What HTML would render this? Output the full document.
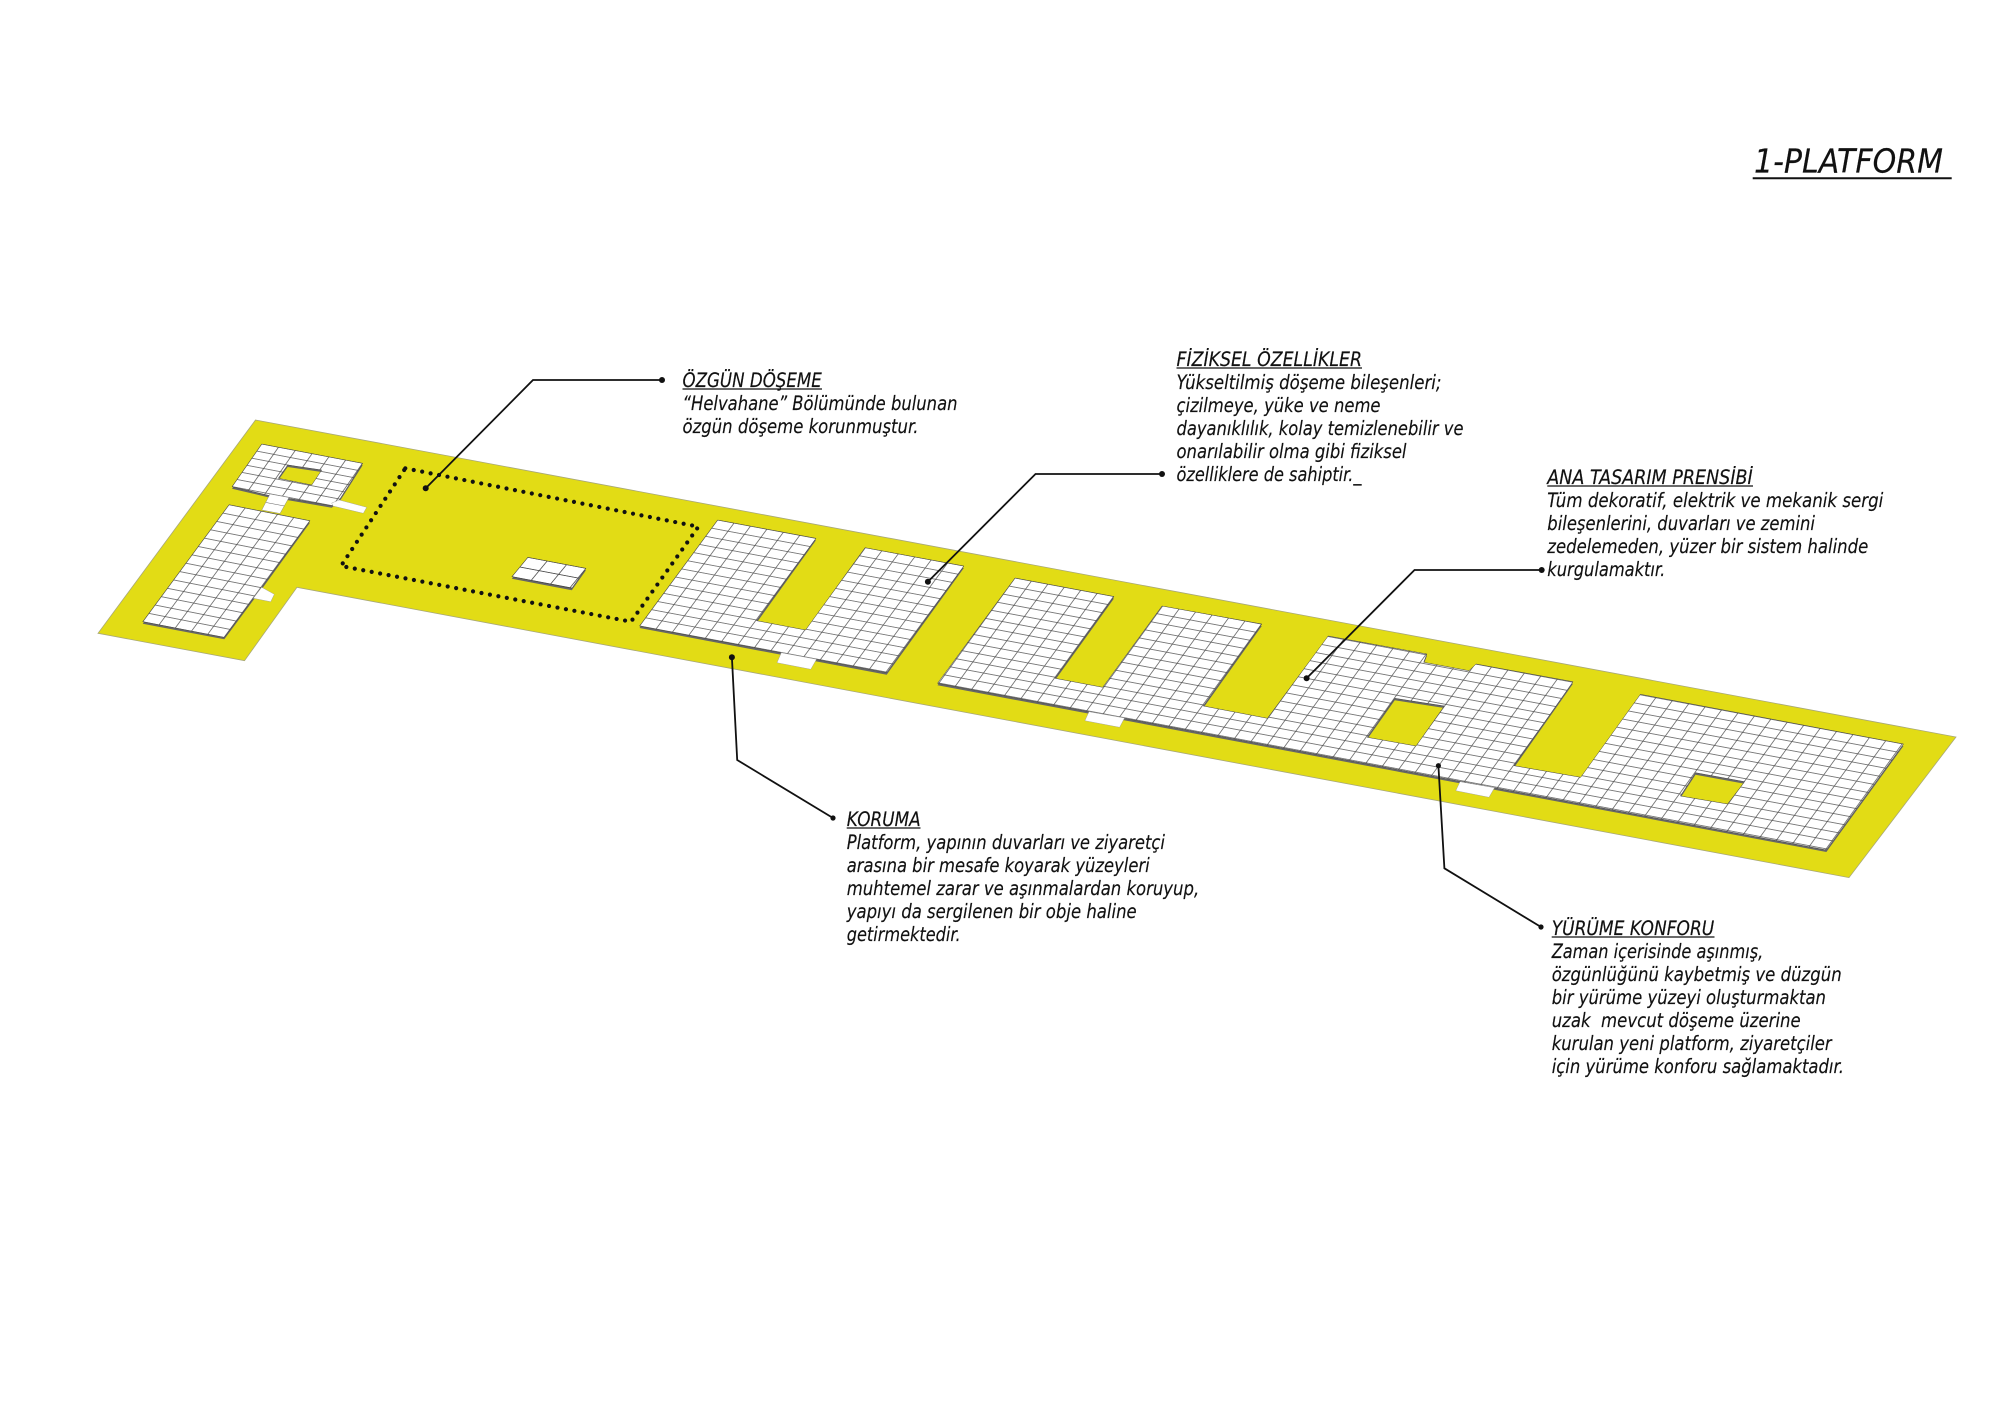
<!DOCTYPE html>
<html lang="tr">
<head>
<meta charset="utf-8">
<title>1-PLATFORM</title>
<style>
html,body{margin:0;padding:0;background:#fff}
svg{display:block}
text{font-family:"DejaVu Sans","Liberation Sans",sans-serif;font-style:italic;font-size:19.5px;fill:#111;white-space:pre;stroke:#111;stroke-width:.15px}
.gl{stroke:#4a4a4a;fill:none}
</style>
</head>
<body>
<svg width="2000" height="1414" viewBox="0 0 2000 1414" xmlns="http://www.w3.org/2000/svg">
<defs>
<g id="cell">
<rect width="100" height="100" fill="#fff"/>
<path class="gl" stroke-width="7" d="M0 0H100M0 100H100"/>
<path class="gl" stroke-width="4.5" d="M0 0V100M100 0V100"/>
</g>
<pattern id="pC" width="100" height="100" patternUnits="userSpaceOnUse" patternTransform="matrix(.1643 .0307 -.0585 .0808 1015 578)"><use href="#cell"/></pattern>
<pattern id="pB" width="100" height="100" patternUnits="userSpaceOnUse" patternTransform="matrix(.1643 .0307 -.0600 .0815 717.6 520)"><use href="#cell"/></pattern>
<pattern id="pL" width="100" height="100" patternUnits="userSpaceOnUse" patternTransform="matrix(.162 .032 -.0616 .0836 229 504.7)"><use href="#cell"/></pattern>
<pattern id="pT" width="100" height="100" patternUnits="userSpaceOnUse" patternTransform="matrix(.168 .032 -.0495 .071 261.7 444)"><use href="#cell"/></pattern>
<pattern id="pS" width="100" height="100" patternUnits="userSpaceOnUse" patternTransform="matrix(.194 .0367 -.08 .097 527.8 557.3)"><use href="#cell"/></pattern>
<path id="iT" fill-rule="evenodd" d="M261.7 444L362.7 463.3L339.3 500L331.7 505.7L288.3 498.3L270 495.7L232 486.7ZM287.7 465L321.7 470L311.7 485L278.3 478.3Z"/>
<path id="iL" d="M229 504.7L310 520.7L261.7 587.3L253.3 598.3L224.3 637.3L142.7 621.7Z"/>
<path id="iS" d="M527.8 557.3L586 568.3L571.8 588.3L511.8 576.7Z"/>
<path id="iB" d="M717.6 520L816 538.3L756.6 620.7L805.6 630L865 547.7L963.9 566L886.7 672.7L639.5 626Z"/>
<path id="iC" fill-rule="evenodd" d="M1015 578L1114 596.5L1055 678.3L1102.7 687.3L1162 606L1261.8 624L1203.3 706L1267.4 718.3L1328.2 636L1426.9 654L1423.7 662.3L1469 670.7L1476 664L1573 681.7L1514 765.7L1580.7 777.3L1640.4 694.3L1903.5 744L1826.4 850L937.5 683.3ZM1394.8 698.3L1444.4 706L1416 746L1367.2 737.3ZM1695.5 772.7L1744.6 781.7L1727.6 804L1680.4 796Z"/>
</defs>

<!-- yellow platform -->
<polygon points="255.5,420 1956,737 1849,877.6 297,587.3 244.5,660.7 98,633.3" fill="#e2dc15" stroke="#a8a878" stroke-width=".8"/>

<!-- tile thickness -->
<g fill="#666" transform="translate(0 2)">
<use href="#iT"/><use href="#iL"/><use href="#iS"/><use href="#iB"/><use href="#iC"/>
</g>

<!-- tile surfaces -->
<use href="#iT" fill="url(#pT)" stroke="#444" stroke-width=".5"/>
<use href="#iL" fill="url(#pL)" stroke="#444" stroke-width=".5"/>
<use href="#iS" fill="url(#pS)" stroke="#444" stroke-width=".5"/>
<use href="#iB" fill="url(#pB)" stroke="#444" stroke-width=".5"/>
<use href="#iC" fill="url(#pC)" stroke="#444" stroke-width=".5"/>

<!-- connector between the two left islands -->
<polygon points="270,494 289,497.5 280,513.5 261.8,510" fill="#fff" stroke="#777" stroke-width=".4"/>
<line x1="266" y1="502.5" x2="284.5" y2="506" stroke="#666" stroke-width=".6"/>

<!-- plain white tabs -->
<g fill="#fff" stroke="#999" stroke-width=".4">
<polygon points="331.7,503 339.3,500 366.7,507.3 363.3,513.3 333,506"/>
<polygon points="261.7,587.3 274.3,594.3 270.7,601.7 253.3,598.3"/>
<polygon points="781.3,652.7 816.5,659.3 810.8,669.3 777,662.7"/>
<polygon points="1089,711.7 1124.5,718 1119.6,727.3 1084.9,720.7"/>
<polygon points="1460,781.7 1494.5,787.7 1489,797.3 1455.8,790.7"/>
</g>

<!-- dotted boundary -->
<polygon points="405.3,468.3 698.4,526.7 631,621.7 341,566" fill="none" stroke="#111" stroke-width="4.2" stroke-linecap="round" stroke-dasharray="0 8.6"/>

<!-- leaders -->
<g fill="none" stroke="#111" stroke-width="1.8">
<polyline points="425.7,488.3 533,380 662,380"/>
<polyline points="927.9,581.7 1035.5,474 1162,474"/>
<polyline points="1306.6,678.3 1414.5,570 1541.7,570"/>
<polyline points="731.9,657.3 737.2,760 833,818"/>
<polyline points="1438.4,765.7 1444.4,868.3 1541,927"/>
</g>
<g fill="#111">
<circle cx="425.7" cy="488.3" r="3"/><circle cx="662" cy="380" r="3"/>
<circle cx="927.9" cy="581.7" r="3"/><circle cx="1162" cy="474" r="3"/>
<circle cx="1306.6" cy="678.3" r="3"/><circle cx="1541.7" cy="570" r="3"/>
<circle cx="731.9" cy="657.3" r="3"/><circle cx="833" cy="818" r="2.6"/>
<circle cx="1438.4" cy="765.7" r="2.6"/><circle cx="1541" cy="927" r="2.6"/>
</g>

<!-- title -->
<text x="1754" y="172.5" style="font-size:33px" textLength="189" lengthAdjust="spacingAndGlyphs">1-PLATFORM</text>
<line x1="1752.7" y1="178.3" x2="1951.7" y2="178.3" stroke="#111" stroke-width="2"/>

<!-- ÖZGÜN DÖŞEME -->
<text x="682.5" y="387" textLength="139.3" lengthAdjust="spacingAndGlyphs">ÖZGÜN DÖŞEME</text>
<line x1="682.5" y1="389" x2="822" y2="389" stroke="#111" stroke-width="1.2"/>
<text x="682.5" y="410" textLength="275" lengthAdjust="spacingAndGlyphs">“Helvahane” Bölümünde bulunan</text>
<text x="682.5" y="433" textLength="236" lengthAdjust="spacingAndGlyphs">özgün döşeme korunmuştur.</text>

<!-- FİZİKSEL ÖZELLİKLER -->
<text x="1176.5" y="366" textLength="185.5" lengthAdjust="spacingAndGlyphs">FİZİKSEL ÖZELLİKLER</text>
<line x1="1176.5" y1="368" x2="1362" y2="368" stroke="#111" stroke-width="1.2"/>
<text x="1176.5" y="389" textLength="265" lengthAdjust="spacingAndGlyphs">Yükseltilmiş döşeme bileşenleri;</text>
<text x="1176.5" y="412" textLength="204" lengthAdjust="spacingAndGlyphs">çizilmeye, yüke ve neme</text>
<text x="1176.5" y="435" textLength="287" lengthAdjust="spacingAndGlyphs">dayanıklılık, kolay temizlenebilir ve</text>
<text x="1176.5" y="458" textLength="230" lengthAdjust="spacingAndGlyphs">onarılabilir olma gibi fiziksel</text>
<text x="1176.5" y="481" textLength="185" lengthAdjust="spacingAndGlyphs">özelliklere de sahiptir._</text>

<!-- ANA TASARIM PRENSİBİ -->
<text x="1547.3" y="484" textLength="205.4" lengthAdjust="spacingAndGlyphs">ANA TASARIM PRENSİBİ</text>
<line x1="1547.3" y1="486" x2="1753" y2="486" stroke="#111" stroke-width="1.2"/>
<text x="1547.3" y="507" textLength="336" lengthAdjust="spacingAndGlyphs">Tüm dekoratif, elektrik ve mekanik sergi</text>
<text x="1547.3" y="530" textLength="267.7" lengthAdjust="spacingAndGlyphs">bileşenlerini, duvarları ve zemini</text>
<text x="1547.3" y="553" textLength="321" lengthAdjust="spacingAndGlyphs">zedelemeden, yüzer bir sistem halinde</text>
<text x="1547.3" y="576" textLength="118" lengthAdjust="spacingAndGlyphs">kurgulamaktır.</text>

<!-- KORUMA -->
<text x="846.7" y="826" textLength="74" lengthAdjust="spacingAndGlyphs">KORUMA</text>
<line x1="846.7" y1="828" x2="920.5" y2="828" stroke="#111" stroke-width="1.2"/>
<text x="846.7" y="849" textLength="318.3" lengthAdjust="spacingAndGlyphs">Platform, yapının duvarları ve ziyaretçi</text>
<text x="846.7" y="872" textLength="303" lengthAdjust="spacingAndGlyphs">arasına bir mesafe koyarak yüzeyleri</text>
<text x="846.7" y="895" textLength="352.5" lengthAdjust="spacingAndGlyphs">muhtemel zarar ve aşınmalardan koruyup,</text>
<text x="846.7" y="918" textLength="290" lengthAdjust="spacingAndGlyphs">yapıyı da sergilenen bir obje haline</text>
<text x="846.7" y="941" textLength="114" lengthAdjust="spacingAndGlyphs">getirmektedir.</text>

<!-- YÜRÜME KONFORU -->
<text x="1551.7" y="935" textLength="162.6" lengthAdjust="spacingAndGlyphs">YÜRÜME KONFORU</text>
<line x1="1551.7" y1="937" x2="1714.5" y2="937" stroke="#111" stroke-width="1.2"/>
<text x="1551.7" y="958" textLength="211.6" lengthAdjust="spacingAndGlyphs">Zaman içerisinde aşınmış,</text>
<text x="1551.7" y="981" textLength="290" lengthAdjust="spacingAndGlyphs">özgünlüğünü kaybetmiş ve düzgün</text>
<text x="1551.7" y="1004" textLength="274.3" lengthAdjust="spacingAndGlyphs">bir yürüme yüzeyi oluşturmaktan</text>
<text x="1551.7" y="1027" textLength="249" lengthAdjust="spacingAndGlyphs">uzak  mevcut döşeme üzerine</text>
<text x="1551.7" y="1050" textLength="280" lengthAdjust="spacingAndGlyphs">kurulan yeni platform, ziyaretçiler</text>
<text x="1551.7" y="1073" textLength="292.3" lengthAdjust="spacingAndGlyphs">için yürüme konforu sağlamaktadır.</text>
</svg>
</body>
</html>
